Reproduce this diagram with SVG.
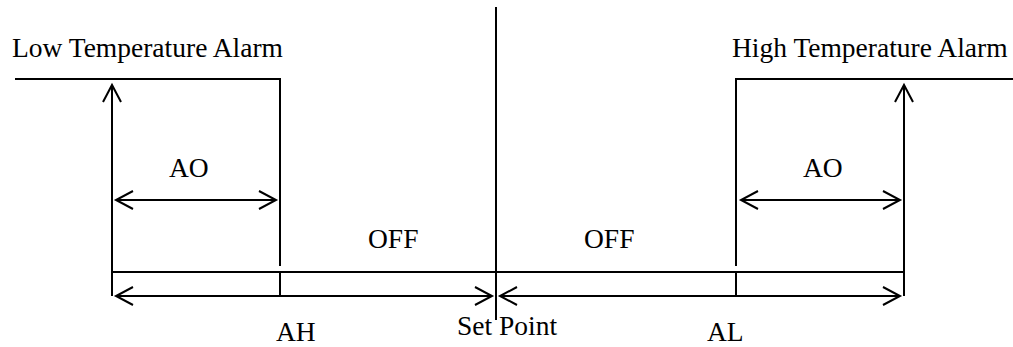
<svg xmlns="http://www.w3.org/2000/svg" width="1013" height="347" viewBox="0 0 1013 347">
<style>
text{font-family:"Liberation Serif","Times New Roman",serif;font-size:27.5px;fill:#000}
.ln{stroke:#000;stroke-width:2;fill:none}
.dbl{marker-start:url(#ah);marker-end:url(#ah)}
</style>
<defs>
<marker id="ah" markerUnits="userSpaceOnUse" markerWidth="40" markerHeight="40" refX="0" refY="0" orient="auto-start-reverse" overflow="visible">
<path d="M-17,-9 L0,0 L-17,9" fill="none" stroke="#000" stroke-width="2"/>
</marker>
</defs>
<rect width="1013" height="347" fill="#fff"/>
<g id="connectors">
<path class="ln" d="M15,79 H280 V266"/>
<path class="ln" d="M1013,79 H736 V266"/>
<path class="ln" d="M112,296 V85" style="marker-end:url(#ah)"/>
<path class="ln" d="M904,296 V85" style="marker-end:url(#ah)"/>
<line class="ln dbl" x1="116" y1="200" x2="276" y2="200"/>
<line class="ln dbl" x1="741" y1="200" x2="900" y2="200"/>
<line class="ln" x1="112" y1="272" x2="904" y2="272"/>
<line class="ln" x1="280" y1="272" x2="280" y2="296"/>
<line class="ln" x1="736" y1="272" x2="736" y2="296"/>
<line class="ln dbl" x1="116" y1="296" x2="492" y2="296"/>
<line class="ln dbl" x1="500" y1="296" x2="900" y2="296"/>
<line class="ln" x1="496" y1="7" x2="496" y2="320"/>
</g>
<g id="low-alarm"><text x="12" y="57">Low Temperature Alarm</text></g>
<g id="high-alarm"><text x="732" y="57">High Temperature Alarm</text></g>
<g id="ao-left"><text x="169" y="177">AO</text></g>
<g id="ao-right"><text x="803" y="177">AO</text></g>
<g id="off-left"><text x="368" y="248">OFF</text></g>
<g id="off-right"><text x="584" y="248">OFF</text></g>
<g id="ah-label"><text x="276" y="341">AH</text></g>
<g id="al-label"><text x="707" y="341">AL</text></g>
<g id="set-point"><text x="457" y="335">Set Point</text></g>
</svg>
